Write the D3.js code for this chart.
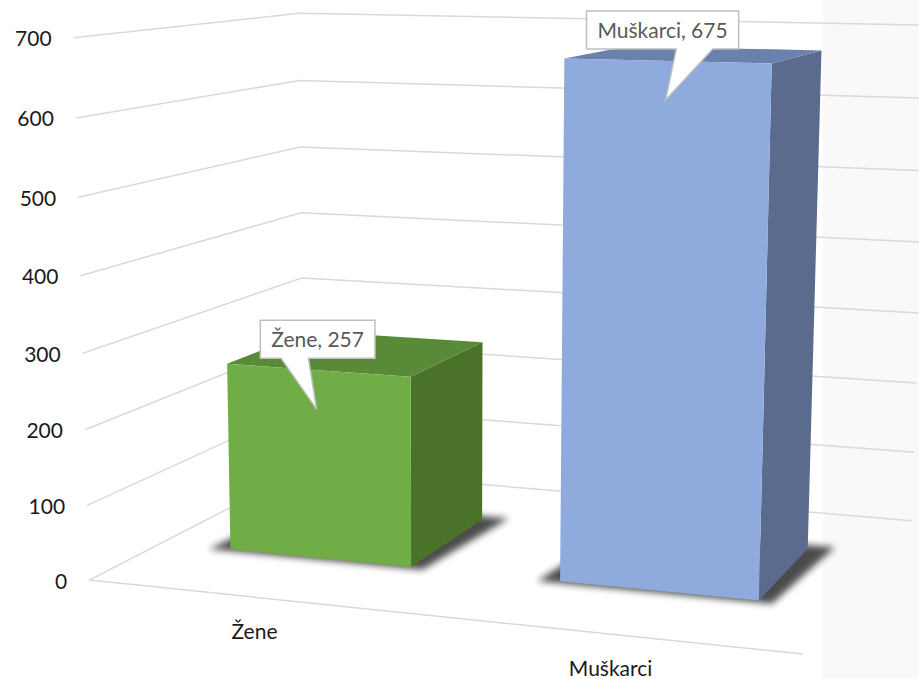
<!DOCTYPE html>
<html>
<head>
<meta charset="utf-8">
<script src="https://cdn.jsdelivr.net/npm/d3@7"></script>
<style>
  html, body { margin: 0; padding: 0; background: #ffffff; }
  svg { display: block; }
  text { font-family: Lato, "Open Sans", sans-serif; }
</style>
</head>
<body>
<svg id="chart" width="919" height="679"></svg>
<script>
// ---------------- DATA ----------------
const categories = ["Žene", "Muškarci"];
const values = [257, 675];
const valueDomain = [0, 700];
const tickStep = 100;

// ---------------- STYLE ----------------
const frontColors = ["#70ad47", "#8faadc"];
const topColors   = ["#588a38", "#6a81ad"];
const sideColors  = ["#4a7229", "#5b6b8d"];
const gridColor = "#d9d9d9";

// ---------------- LAYOUT ----------------
// Screen positions of the 3D plot box (normalized box coords u,v,w -> px)
const boxAnchors = [
  [0, 0,   0,  90, 580], [0, 1/7, 0,  87, 505], [0, 2/7, 0,  85, 430],
  [0, 3/7, 0,  83, 353], [0, 4/7, 0,  80, 276], [0, 5/7, 0,  78, 197],
  [0, 6/7, 0,  76, 118], [0, 1,   0,  73,  38],
  [0, 0,   1, 303, 470], [0, 3/7, 1, 302, 278], [0, 4/7, 1, 302, 212],
  [0, 5/7, 1, 301, 147], [0, 6/7, 1, 300,  80], [0, 1,   1, 298,  14],
  [1, 0,   0, 803, 654], [1, 0,   1, 912, 521], [1, 1/7, 1, 914, 452]
];
const barDepth = [0.3, 0.7];        // bar extent in depth (w)
const calloutPointer = [[0.18, 0.42], [0.59, 0.83]];
const calloutShift = [1, -3];
const sidePanelX = 823;

// ---------------- PROJECTION (least-squares DLT) ----------------
function fitProjection(pairs) {
  const n = 11;
  const M = Array.from({length: n}, () => new Array(n + 1).fill(0));
  const addRow = (row, rhs) => {
    for (let i = 0; i < n; i++) {
      for (let j = 0; j < n; j++) M[i][j] += row[i] * row[j];
      M[i][n] += row[i] * rhs;
    }
  };
  for (const [X, Y, Z, x, y] of pairs) {
    addRow([X, Y, Z, 1, 0, 0, 0, 0, -x * X, -x * Y, -x * Z], x);
    addRow([0, 0, 0, 0, X, Y, Z, 1, -y * X, -y * Y, -y * Z], y);
  }
  for (let c = 0; c < n; c++) {
    let piv = c;
    for (let r = c + 1; r < n; r++) if (Math.abs(M[r][c]) > Math.abs(M[piv][c])) piv = r;
    [M[c], M[piv]] = [M[piv], M[c]];
    for (let r = 0; r < n; r++) {
      if (r === c) continue;
      const f = M[r][c] / M[c][c];
      for (let k = c; k <= n; k++) M[r][k] -= f * M[c][k];
    }
  }
  return M.map((row, i) => row[n] / row[i]);
}
const P = fitProjection(boxAnchors);
function project(u, v, w) {
  const d = P[8] * u + P[9] * v + P[10] * w + 1;
  return [(P[0] * u + P[1] * v + P[2] * w + P[3]) / d,
          (P[4] * u + P[5] * v + P[6] * w + P[7]) / d];
}

// ---------------- SCALES ----------------
const xBand = d3.scaleBand().domain(categories).range([0, 1]).paddingInner(0.44).paddingOuter(0.22);
const yScale = d3.scaleLinear().domain(valueDomain).range([0, 1]);
const ticks = d3.range(valueDomain[0], valueDomain[1] + 1, tickStep);

const svg = d3.select("#chart");
const defs = svg.append("defs");
const blur = defs.append("filter").attr("id", "shadowBlur")
  .attr("x", "-20%").attr("y", "-20%").attr("width", "140%").attr("height", "140%");
blur.append("feGaussianBlur").attr("stdDeviation", 3.5);

svg.append("rect").attr("width", 919).attr("height", 679).attr("fill", "#ffffff");
svg.append("rect").attr("x", sidePanelX).attr("y", 0).attr("width", 919 - sidePanelX).attr("height", 679).attr("fill", "#f9f9f9");

const line = d3.line();
const poly = pts => line(pts) + "Z";

// gridlines on left wall and back wall
svg.append("g").selectAll("path").data(ticks).join("path")
  .attr("d", t => line([project(0, yScale(t), 0), project(0, yScale(t), 1), project(1, yScale(t), 1)]))
  .attr("fill", "none").attr("stroke", gridColor).attr("stroke-width", 1.5);
// floor front edge
svg.append("path").attr("d", line([project(0, 0, 0), project(1, 0, 0)]))
  .attr("fill", "none").attr("stroke", gridColor).attr("stroke-width", 1.5);

// tick labels
svg.append("g").selectAll("text").data(ticks).join("text")
  .attr("x", t => project(0, yScale(t), 0)[0] - 22)
  .attr("y", t => project(0, yScale(t), 0)[1])
  .attr("text-anchor", "end").attr("dominant-baseline", "central")
  .attr("font-size", 21).attr("fill", "#1a1a1a")
  .text(t => t);

// category labels
svg.append("g").selectAll("text").data(categories).join("text")
  .attr("x", c => project(xBand(c) + xBand.bandwidth() / 2, 0, 0)[0])
  .attr("y", c => project(xBand(c) + xBand.bandwidth() / 2, 0, 0)[1] + 42)
  .attr("text-anchor", "middle").attr("font-size", 21).attr("fill", "#1a1a1a")
  .text(c => c);

// bars
const [w0, w1] = barDepth;
const barG = svg.append("g");
categories.forEach((c, i) => {
  const u0 = xBand(c), u1 = u0 + xBand.bandwidth(), v1 = yScale(values[i]);
  // shadow
  barG.append("path")
    .attr("d", poly([project(u0 - 0.03, 0, w0 - 0.012), project(u1 + 0.02, 0, w0 - 0.012),
                     project(u1 + 0.035, 0, w1 + 0.03), project(u0 - 0.01, 0, w1 + 0.03)]))
    .attr("fill", "#000").attr("opacity", 0.7).attr("filter", "url(#shadowBlur)");
  // right side
  barG.append("path")
    .attr("d", poly([project(u1, 0, w0), project(u1, 0, w1), project(u1, v1, w1), project(u1, v1, w0)]))
    .attr("fill", sideColors[i]);
  // top
  barG.append("path")
    .attr("d", poly([project(u0, v1, w0), project(u1, v1, w0), project(u1, v1, w1), project(u0, v1, w1)]))
    .attr("fill", topColors[i]);
  // front
  barG.append("path")
    .attr("d", poly([project(u0, 0, w0), project(u1, 0, w0), project(u1, v1, w0), project(u0, v1, w0)]))
    .attr("fill", frontColors[i]);
});

// callout data labels
categories.forEach((c, i) => {
  const uc = xBand(c) + xBand.bandwidth() / 2;
  const anchor = project(uc, yScale(values[i]), w0);
  const tip = [anchor[0] - 1, anchor[1] + 39];
  const g = svg.append("g");
  const txt = g.append("text").attr("font-size", 21).attr("fill", "#595959")
    .attr("text-anchor", "middle").text(`${c}, ${values[i]}`);
  const tw = txt.node().getComputedTextLength();
  const bw = tw + 22, bh = 38;
  const bx = tip[0] - bw / 2 + calloutShift[i], by = tip[1] - 51 - bh;
  const [fa, fb] = calloutPointer[i];
  const d = `M${bx},${by}H${bx + bw}V${by + bh}H${bx + fb * bw}L${tip[0]},${tip[1]}L${bx + fa * bw},${by + bh}H${bx}Z`;
  g.insert("path", "text").attr("d", d).attr("fill", "#ffffff").attr("stroke", "#bfbfbf").attr("stroke-width", 1.5);
  txt.attr("x", bx + bw / 2).attr("y", by + 27);
});
</script>
</body>
</html>
